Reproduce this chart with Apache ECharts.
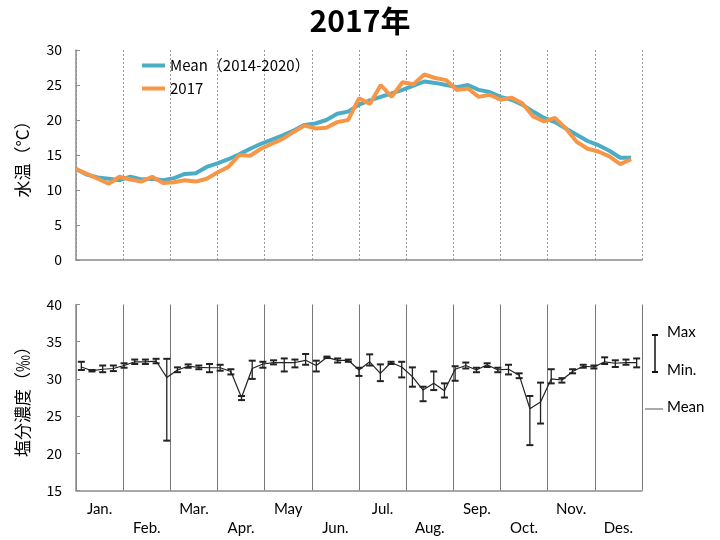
<!DOCTYPE html>
<html>
<head>
<meta charset="utf-8">
<script src="https://cdn.jsdelivr.net/npm/echarts@6/dist/echarts.min.js"></script>
<style>html,body{margin:0;padding:0;background:#fff}#c{width:720px;height:540px}</style>
</head>
<body>
<div id="c"></div>
<script>
const months = ['Jan.','Feb.','Mar.','Apr.','May','Jun.','Jul.','Aug.','Sep.','Oct.','Nov.','Des.'];
const weeks = Array.from({length:53}, (_, i) => 'W' + (i + 1));

const tempMean = [13.0,12.2,11.8,11.6,11.4,11.9,11.5,11.6,11.4,11.7,12.3,12.4,13.3,13.8,14.4,15.1,15.9,16.6,17.2,17.8,18.5,19.3,19.5,20.0,20.9,21.2,22.2,22.8,23.3,23.8,24.3,24.9,25.5,25.3,25.0,24.7,25.0,24.3,24.0,23.3,22.9,22.2,21.2,20.3,19.7,18.8,17.9,17.0,16.4,15.6,14.6,14.6];
const temp2017 = [13.0,12.3,11.6,10.9,11.9,11.5,11.2,11.9,11.0,11.1,11.4,11.2,11.6,12.5,13.3,15.0,14.9,15.9,16.6,17.3,18.3,19.2,18.8,18.9,19.7,20.0,23.1,22.3,25.0,23.3,25.4,25.1,26.5,26.0,25.7,24.3,24.5,23.3,23.6,22.9,23.2,22.4,20.5,19.8,20.3,18.8,16.9,15.9,15.5,14.8,13.7,14.4];

const salMean = [31.6,31.1,31.3,31.4,31.8,32.3,32.3,32.4,30.2,31.2,31.7,31.55,31.5,31.5,31.0,27.5,31.4,32.0,32.2,32.2,32.2,32.5,31.8,32.9,32.5,32.5,31.2,32.3,30.75,32.2,31.6,30.3,28.5,29.4,28.4,31.3,31.8,31.2,31.9,31.2,31.3,30.5,26.0,26.9,30.0,29.85,31.0,31.7,31.6,32.3,32.1,32.2,32.2];
const salMax = [32.3,31.2,31.8,31.8,32.1,32.6,32.6,32.7,32.7,31.55,31.95,31.8,32.0,31.9,31.3,27.7,32.45,32.3,32.5,32.75,32.6,33.35,32.45,33.0,32.75,32.6,31.5,33.3,31.95,32.3,32.3,31.55,28.95,31.0,29.4,31.7,32.2,31.5,32.1,31.5,31.9,30.75,27.7,29.5,31.3,30.1,31.3,31.9,31.8,32.9,32.5,32.6,32.75];
const salMin = [31.2,31.0,30.9,31.05,31.5,32.0,32.0,32.1,21.7,30.9,31.5,31.3,30.9,31.1,30.6,27.15,30.0,31.5,31.95,31.0,31.55,31.9,31.0,32.8,32.2,32.3,30.4,31.8,29.7,32.0,30.2,28.95,27.0,28.5,27.5,29.75,31.4,30.9,31.6,30.9,30.6,30.1,21.1,24.0,29.4,29.5,30.75,31.5,31.4,32.0,31.6,31.9,31.55];

const FONT = '"Noto Sans CJK JP", "Noto Sans", sans-serif';
const LAT = 'Lato, "Noto Sans", sans-serif';
const AX = '#8c8c8c';

const chart = echarts.init(document.getElementById('c'), null, {renderer: 'canvas'});
chart.setOption({
  animation: false,
  backgroundColor: '#fff',
  title: {
    text: '2017年', left: 'center', top: 1,
    textStyle: {fontFamily: FONT, fontSize: 30, fontWeight: 'bold', color: '#000'}
  },
  legend: {
    data: ['Mean（2014-2020）', '2017'],
    orient: 'vertical', left: 137, top: 53,
    icon: 'rect', itemWidth: 23, itemHeight: 4, itemGap: 8,
    textStyle: {fontFamily: FONT, fontSize: 15, color: '#000'}
  },
  grid: [
    {left: 76, right: 78, top: 50, height: 210},
    {left: 76, right: 78, top: 304.5, height: 186}
  ],
  xAxis: [
    {gridIndex: 0, type: 'value', min: 0, max: 12, interval: 1,
     axisLine: {show: true, lineStyle: {color: AX, width: 1.5}}, axisTick: {show: false}, axisLabel: {show: false},
     splitLine: {show: true, lineStyle: {color: '#999', type: [2, 2], width: 1}}},
    {gridIndex: 0, type: 'category', data: weeks, boundaryGap: false, show: false},
    {gridIndex: 1, type: 'category', data: months, boundaryGap: true, position: 'bottom',
     axisLine: {show: true, lineStyle: {color: AX, width: 1.5}}, axisTick: {show: false},
     axisLabel: {interval: 0, margin: 9, fontFamily: LAT, fontSize: 15, color: '#000', lineHeight: 19,
       formatter: (v, i) => (i % 2 === 1 ? '\n' + v : v)},
     splitLine: {show: true, interval: 0, lineStyle: {color: '#777', width: 1}}},
    {gridIndex: 1, type: 'category', data: weeks, boundaryGap: true, show: false}
  ],
  yAxis: [
    {gridIndex: 0, type: 'value', min: 0, max: 30, interval: 5,
     name: '水温（°C）', nameLocation: 'middle', nameRotate: 90, nameGap: 45,
     nameTextStyle: {fontFamily: FONT, fontSize: 17, color: '#000'},
     axisLine: {show: true, lineStyle: {color: AX, width: 1.5}},
     axisTick: {show: true, inside: true, length: 4, lineStyle: {color: AX}},
     axisLabel: {margin: 14, fontFamily: FONT, fontSize: 14, color: '#000'},
     splitLine: {show: false}},
    {gridIndex: 1, type: 'value', min: 15, max: 40, interval: 5,
     name: '塩分濃度（‰）', nameLocation: 'middle', nameRotate: 90, nameGap: 45,
     nameTextStyle: {fontFamily: FONT, fontSize: 17, color: '#000'},
     axisLine: {show: true, lineStyle: {color: AX, width: 1.5}},
     axisTick: {show: true, inside: true, length: 4, lineStyle: {color: AX}},
     axisLabel: {margin: 14, fontFamily: FONT, fontSize: 14, color: '#000'},
     splitLine: {show: false}}
  ],
  series: [
    {name: 'Mean（2014-2020）', type: 'line', xAxisIndex: 1, yAxisIndex: 0, data: tempMean,
     symbol: 'none', color: '#4BACC6', lineStyle: {width: 4, color: '#4BACC6'}},
    {name: '2017', type: 'line', xAxisIndex: 1, yAxisIndex: 0, data: temp2017,
     symbol: 'none', color: '#F79646', lineStyle: {width: 4, color: '#F79646'}},
    {name: 'range', type: 'custom', xAxisIndex: 3, yAxisIndex: 1,
     data: weeks.map((w, i) => [i, salMin[i], salMax[i]]),
     encode: {x: 0, y: [1, 2]},
     renderItem: function (params, api) {
       const lo = api.coord([api.value(0), api.value(1)]);
       const hi = api.coord([api.value(0), api.value(2)]);
       const hw = 3.5;
       return {type: 'group', children: [
         {type: 'line', shape: {x1: lo[0], y1: lo[1], x2: hi[0], y2: hi[1]}, style: {stroke: '#222', lineWidth: 1.3}},
         {type: 'line', shape: {x1: lo[0] - hw, y1: lo[1], x2: lo[0] + hw, y2: lo[1]}, style: {stroke: '#222', lineWidth: 2}},
         {type: 'line', shape: {x1: hi[0] - hw, y1: hi[1], x2: hi[0] + hw, y2: hi[1]}, style: {stroke: '#222', lineWidth: 2}}
       ]};
     }},
    {name: 'salMean', type: 'line', xAxisIndex: 3, yAxisIndex: 1, data: salMean,
     symbol: 'none', lineStyle: {width: 1.2, color: '#222'}}
  ],
  graphic: [
    {type: 'line', shape: {x1: 655, y1: 335, x2: 655, y2: 372}, style: {stroke: '#111', lineWidth: 1.5}},
    {type: 'line', shape: {x1: 652, y1: 335, x2: 658, y2: 335}, style: {stroke: '#111', lineWidth: 2}},
    {type: 'line', shape: {x1: 652, y1: 372, x2: 658, y2: 372}, style: {stroke: '#111', lineWidth: 2}},
    {type: 'text', left: 667, top: 325, style: {text: 'Max', font: '15px ' + LAT, fill: '#000'}},
    {type: 'text', left: 667, top: 363, style: {text: 'Min.', font: '15px ' + LAT, fill: '#000'}},
    {type: 'line', shape: {x1: 645, y1: 409, x2: 663, y2: 409}, style: {stroke: '#555', lineWidth: 1}},
    {type: 'text', left: 667, top: 400, style: {text: 'Mean', font: '15px ' + LAT, fill: '#000'}}
  ]
});
</script>
</body>
</html>
